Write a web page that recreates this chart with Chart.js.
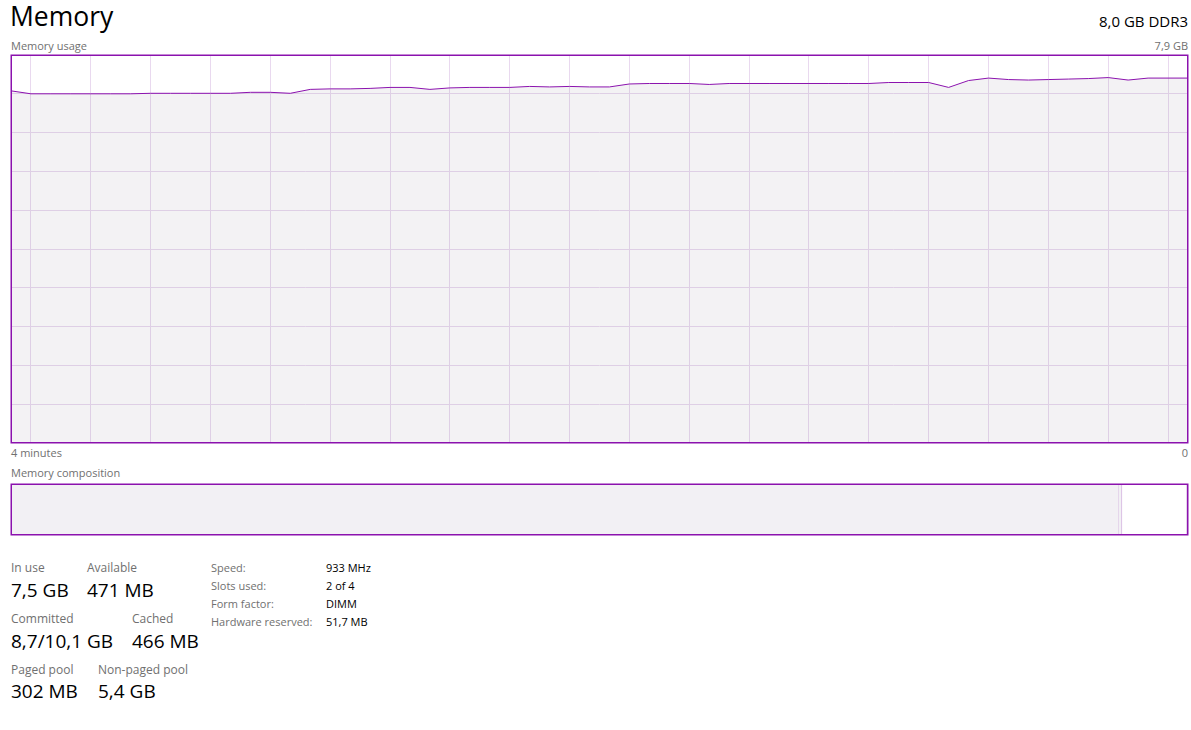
<!DOCTYPE html>
<html>
<head>
<meta charset="utf-8">
<script src="https://cdn.jsdelivr.net/npm/chart.js@4"></script>
<style>
  body { margin: 0; background: #fff; font-family: "Open Sans", "Noto Sans", sans-serif; }
  .t { position: absolute; line-height: 1; white-space: nowrap; }
  .lbl { color: #707070; font-size: 12px; }
  .lbl2 { color: #707070; font-size: 11px; }
  .small { color: #707070; font-size: 11px; }
  .val { color: #000; font-size: 19px; }
  .info { color: #000; font-size: 11px; }
  #usageBox { position: absolute; left: 9px; top: 53px; width: 1181px; height: 392px; }
  #compBox { position: absolute; left: 9px; top: 482px; width: 1181px; height: 55px; }
</style>
</head>
<body>
<div class="t" style="left:10px;top:3px;font-size:26.5px;color:#000">Memory</div>
<div class="t" style="right:3px;top:14px;font-size:15px;color:#000">8,0 GB DDR3</div>
<div class="t small" style="left:11px;top:40px">Memory usage</div>
<div class="t small" id="maxLbl" style="right:3px;top:40px"></div>
<div id="usageBox"><canvas id="usage"></canvas></div>
<div class="t small" style="left:11px;top:447px">4 minutes</div>
<div class="t small" style="right:3px;top:447px">0</div>
<div class="t small" style="left:11px;top:467px">Memory composition</div>
<div id="compBox"><canvas id="comp"></canvas></div>

<div class="t lbl" style="left:11px;top:562px">In use</div>
<div class="t val" style="left:11px;top:581px">7,5 GB</div>
<div class="t lbl" style="left:87px;top:562px">Available</div>
<div class="t val" style="left:87px;top:581px">471 MB</div>
<div class="t lbl" style="left:11px;top:613px">Committed</div>
<div class="t val" style="left:11px;top:632px">8,7/10,1 GB</div>
<div class="t lbl" style="left:132px;top:613px">Cached</div>
<div class="t val" style="left:132px;top:632px">466 MB</div>
<div class="t lbl" style="left:11px;top:664px">Paged pool</div>
<div class="t val" style="left:11px;top:682px">302 MB</div>
<div class="t lbl" style="left:98px;top:664px">Non-paged pool</div>
<div class="t val" style="left:98px;top:682px">5,4 GB</div>

<div class="t lbl2" style="left:211px;top:562px">Speed:</div>
<div class="t info" style="left:326px;top:562px">933 MHz</div>
<div class="t lbl2" style="left:211px;top:580px">Slots used:</div>
<div class="t info" style="left:326px;top:580px">2 of 4</div>
<div class="t lbl2" style="left:211px;top:598px">Form factor:</div>
<div class="t info" style="left:326px;top:598px">DIMM</div>
<div class="t lbl2" style="left:211px;top:616px">Hardware reserved:</div>
<div class="t info" style="left:326px;top:616px">51,7 MB</div>

<script>
// memory usage over the last 4 minutes (GB), 60 samples, oldest first
const usageGB = [
  7.17, 7.11, 7.11, 7.11, 7.11, 7.11, 7.11, 7.12, 7.12, 7.12,
  7.12, 7.12, 7.14, 7.14, 7.12, 7.20, 7.21, 7.21, 7.22, 7.24,
  7.24, 7.20, 7.23, 7.24, 7.24, 7.24, 7.26, 7.25, 7.26, 7.25,
  7.25, 7.31, 7.32, 7.32, 7.32, 7.30, 7.32, 7.32, 7.32, 7.32,
  7.32, 7.32, 7.32, 7.32, 7.34, 7.34, 7.34, 7.24, 7.38, 7.43,
  7.40, 7.39, 7.40, 7.41, 7.42, 7.44, 7.39, 7.43, 7.43, 7.43
];
const maxGB = 7.9;
const maxLabel = "7,9 GB";

// memory composition (MB)
const compLabels = ["In use", "Modified", "Standby", "Free"];
const compMB = [7609, 28, 440, 14];

document.getElementById("maxLbl").textContent = maxLabel;

const purple = "#8b12ae";
const gridCol = "#e9d9ef";
const fillCol = "#f2f0f4";

const frame = {
  id: "frame",
  afterDraw(c) {
    const a = c.chartArea, ctx = c.ctx;
    ctx.save();
    ctx.strokeStyle = purple;
    ctx.lineWidth = 1.5;
    ctx.strokeRect(a.left + 0.25, a.top + 0.25, a.right - a.left - 0.5, a.bottom - a.top - 0.5);
    ctx.restore();
  }
};

new Chart(document.getElementById("usage"), {
  type: "line",
  data: {
    labels: usageGB.map((v, i) => i),
    datasets: [{
      data: usageGB.map((v, i) => ({ x: i, y: v })),
      borderColor: purple,
      borderWidth: 1,
      backgroundColor: "rgba(120,100,130,0.085)",
      fill: "start",
      pointRadius: 0,
      tension: 0
    }]
  },
  options: {
    responsive: true,
    maintainAspectRatio: false,
    animation: false,
    layout: { padding: 2 },
    plugins: { legend: { display: false }, tooltip: { enabled: false } },
    scales: {
      x: {
        type: "linear", min: 0, max: usageGB.length - 1,
        afterBuildTicks: s => { s.ticks = []; for (let i = 1; i < usageGB.length; i += 3) s.ticks.push({ value: i }); },
        ticks: { display: false },
        grid: { color: gridCol, drawTicks: false },
        border: { display: false }
      },
      y: {
        min: 0, max: maxGB,
        afterBuildTicks: s => { s.ticks = []; for (let i = 1; i < 10; i++) s.ticks.push({ value: maxGB * i / 10 }); },
        ticks: { display: false },
        grid: { color: gridCol, drawTicks: false },
        border: { display: false }
      }
    }
  },
  plugins: [frame]
});

const segStyle = [
  { backgroundColor: fillCol, borderColor: fillCol, borderWidth: 0 },
  { backgroundColor: fillCol, borderColor: "#d6b4e0", borderWidth: { left: 1, right: 1 } },
  { backgroundColor: "#ffffff", borderColor: "#d6b4e0", borderWidth: 0 },
  { backgroundColor: "#ffffff", borderColor: "#c89ad6", borderWidth: { left: 1 } }
];

new Chart(document.getElementById("comp"), {
  type: "bar",
  data: {
    labels: ["Memory"],
    datasets: compLabels.map((l, i) => Object.assign({
      label: l,
      data: [compMB[i]],
      borderSkipped: false,
      barPercentage: 1,
      categoryPercentage: 1
    }, segStyle[i]))
  },
  options: {
    indexAxis: "y",
    responsive: true,
    maintainAspectRatio: false,
    animation: false,
    layout: { padding: 2 },
    plugins: { legend: { display: false }, tooltip: { enabled: false } },
    scales: {
      x: { stacked: true, min: 0, max: compMB.reduce((a, b) => a + b, 0), display: false },
      y: { stacked: true, display: false }
    }
  },
  plugins: [frame]
});
</script>
</body>
</html>
